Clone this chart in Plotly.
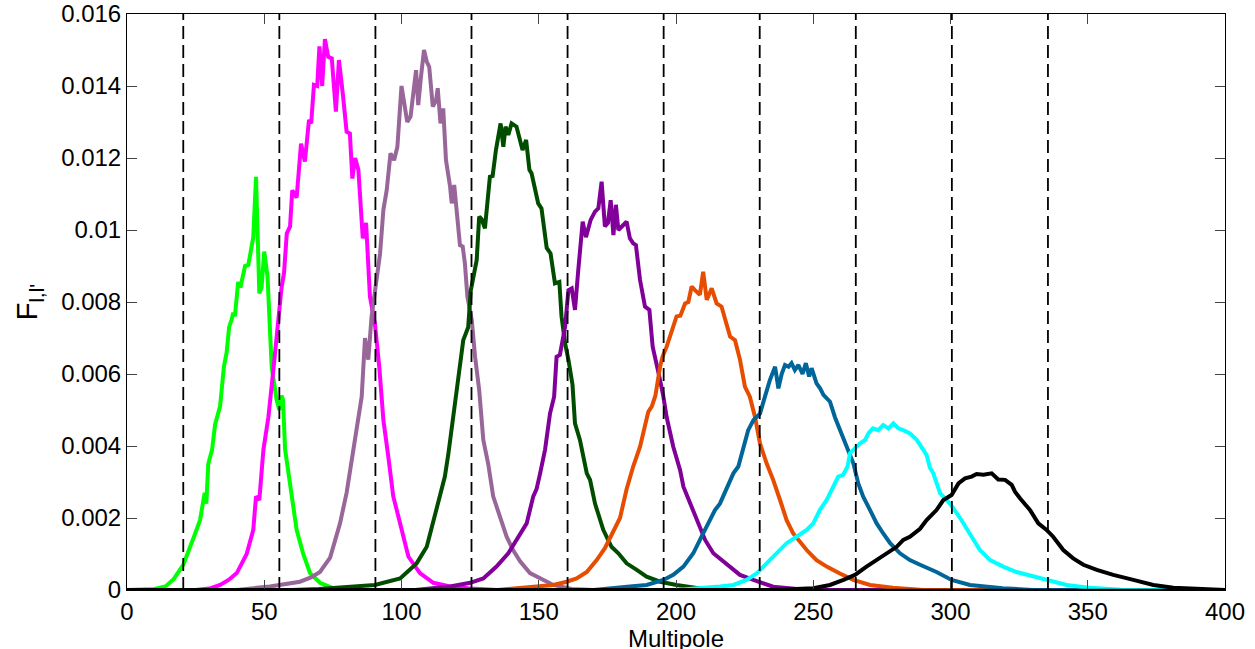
import plotly.graph_objects as go

# ---- data (multipole l, F_{l,l'}) ----
green_l = [0, 10, 14, 17, 20.5, 22.3, 24.5, 26.6, 28.3, 28.9, 29.6, 31, 32.1, 33.9, 35.3, 36.3, 37.2, 38.1, 38.7, 39.3,
           40.5, 41.3, 43, 44.2, 46, 47, 48.2, 49, 50, 51.2, 51.8, 52.7, 54.5, 55.5, 56.3, 56.8, 57.6, 60, 61.8, 64.2,
           66.7, 70.3, 75, 80, 400]
green_f = [0, 0.00003, 0.0001, 0.0003, 0.0007, 0.00103, 0.0015, 0.00194, 0.0027, 0.0024, 0.0035, 0.0039, 0.0046, 0.0051,
           0.0062, 0.0066, 0.0073, 0.0075, 0.0077, 0.0076,
           0.00856, 0.0084, 0.0090, 0.00903, 0.0098, 0.01148, 0.00824, 0.0084, 0.0094, 0.0087, 0.0075, 0.0062, 0.00528,
           0.0050, 0.0054, 0.0053, 0.0039, 0.0026, 0.00167, 0.001, 0.00047, 0.0002, 0.00005, 0, 0]

magenta_l = [0, 25, 30, 33.9, 37, 40, 43.6, 46, 47, 48.2, 49.7, 51.5, 53.3, 55.1, 56.3, 57.2, 58.2, 59.4, 60.2, 61.8,
             63.4, 64.8, 66.3, 67.1, 68.1, 69.3, 70.1, 71.1, 72.1, 73.3, 74.6, 76.1, 77.2, 78.6, 80, 81.2, 82.1, 83.1,
             84.3, 85.9, 87.1, 88.5, 90.3, 91.9, 93.4, 95.2, 97, 99.5, 102.5, 106.7, 111.6, 117.7, 125, 135, 400]
magenta_f = [0, 0, 0.00004, 0.00014, 0.00028, 0.00047, 0.001, 0.00167, 0.0026, 0.0025, 0.0039, 0.0048, 0.0061, 0.0076,
             0.0084, 0.0088, 0.0099, 0.0101, 0.0111, 0.0109, 0.0124, 0.0119, 0.01306, 0.01296, 0.01403, 0.0140, 0.0151,
             0.0140, 0.0153, 0.01481, 0.01477, 0.01329, 0.01472, 0.0138, 0.01273, 0.01268, 0.01143, 0.0120, 0.01167,
             0.00977, 0.0102, 0.00815, 0.0074, 0.0062, 0.00472, 0.0037, 0.0026, 0.00185, 0.00093, 0.00047, 0.0002,
             0.0001, 0.00004, 0, 0]

mauve_l = [0, 40, 52, 63, 67, 70.3, 74, 77.6, 80, 82.4, 84.3, 85.5, 86.7, 87.9, 89.1, 90.3, 92.2, 93.4, 94.6, 96, 97.3,
           98.5, 100, 102.1, 103.3, 105.3, 106.1, 107.1, 108.2, 109.2, 110.1, 111.4, 112.6, 113.2, 114.2, 115.2, 116.2,
           117.7, 118.3, 119.2, 120.3, 121.3, 122.3, 123.1, 124, 125.6, 126.8, 128.3, 129.8, 131.6, 133.4, 135.9, 138.3,
           140.7, 143.2, 146.8, 149.2, 155.3, 162, 170, 400]
mauve_f = [0, 0, 0.0001, 0.00023, 0.00035, 0.0005, 0.0009, 0.00185, 0.0027, 0.0039, 0.0049, 0.00537, 0.0070, 0.0064,
           0.0076, 0.0083, 0.00935, 0.01056, 0.0111, 0.01213, 0.01194, 0.01231, 0.0140, 0.0130, 0.01315, 0.01444,
           0.01347, 0.01426, 0.0150, 0.01468, 0.01453, 0.01343, 0.0136, 0.01394, 0.01296, 0.01338, 0.01194, 0.0112,
           0.01074, 0.01125, 0.0102, 0.00958, 0.00954, 0.00907, 0.00815, 0.0075, 0.00648, 0.00556, 0.00417, 0.0035,
           0.0026, 0.002, 0.00148, 0.0011, 0.0008, 0.00047, 0.00037, 0.00014, 0.00003, 0, 0]

dkgreen_l = [0, 60, 70, 82.4, 90.3, 99.5, 105.5, 109.2, 112.8, 115.8, 117.1, 118.9, 120.7, 122.5, 124.3, 125.2, 127.4,
             128.3, 129.2, 130.4, 132.2, 133.2, 134.4, 136.1, 137.1, 137.9, 138.9, 140.1, 141.9, 142.9, 144.1, 145.4,
             146.6, 147.4, 148.6, 149.8, 151, 152.9, 154.3, 155.9, 157.5, 158.3, 159.6, 160.8, 162.3, 163.2, 165, 167.5,
             168.7, 170.5, 173.5, 176.5, 179, 182, 185.7, 189.3, 194.2, 200.2, 210, 220, 400]
dkgreen_f = [0, 0, 0.00003, 0.00009, 0.00014, 0.00032, 0.00074, 0.0012, 0.0023, 0.00315, 0.0038, 0.0049, 0.0060,
             0.00694, 0.0073, 0.0083, 0.00917, 0.01037, 0.0103, 0.01005, 0.01148, 0.0115, 0.01222, 0.01296, 0.01231,
             0.01287, 0.01264, 0.01296, 0.01287, 0.01255, 0.01222, 0.0125, 0.01167, 0.01157, 0.0112, 0.01074, 0.0106,
             0.0095, 0.00935, 0.00852, 0.00856, 0.0076, 0.00685, 0.0064, 0.0057, 0.00463, 0.00417, 0.00324, 0.00306,
             0.0024, 0.00167, 0.0012, 0.00102, 0.00074, 0.00056, 0.00037, 0.00023, 0.00014, 0.00003, 0, 0]

purple_l = [0, 105, 117.7, 125, 129.8, 134.6, 138.9, 141.9, 143.5, 145.6, 148, 149.2, 150.5, 152.3, 154.1, 155.6,
            156.5, 157.7, 159.6, 160.8, 162, 163.2, 164.4, 166, 167.2, 168.9, 170.5, 171.7, 172.9, 174.1, 175.2, 176.2,
            177.2, 178.1, 179, 180.5, 182, 183.2, 184.4, 185.4, 186.9, 188.7, 190.3, 191.5, 193, 194.2, 195.4, 196.6,
            199, 201.5, 202.7, 205.1, 207.5, 210.6, 213.6, 216, 219.4, 223.3, 228.2, 235.4, 245, 255, 400]
purple_f = [0, 0, 0.0001, 0.0002, 0.00032, 0.00065, 0.00102, 0.0014, 0.0016, 0.00185, 0.0026, 0.0028, 0.00324, 0.0039,
            0.0049, 0.00537, 0.00648, 0.00653, 0.00731, 0.00833, 0.00838, 0.00778, 0.00889, 0.01023, 0.0098, 0.01028,
            0.01051, 0.0106, 0.01134, 0.0101, 0.0102, 0.01083, 0.00986, 0.0107, 0.01, 0.0101, 0.01023, 0.00977,
            0.00963, 0.00958, 0.00861, 0.00787, 0.00778, 0.00676, 0.0063, 0.00583, 0.00537, 0.0048, 0.00398, 0.00333,
            0.00287, 0.0024, 0.00194, 0.00139, 0.00102, 0.00088, 0.00067, 0.00042, 0.00028, 0.00009, 0.00002, 0, 0]

orange_l = [0, 135, 149.2, 155.3, 160.2, 163.8, 167.5, 171.1, 174.1, 177.2, 179.6, 182, 184.4, 186.9, 189.9, 191.2,
            192.5, 194.2, 195.1, 196.6, 198.4, 200.2, 201.6, 203.3, 204.5, 205.7, 206.9, 208.7, 209.9, 211.2, 213,
            214.8, 216.6, 219.7, 221.5, 223.3, 225.1, 226.9, 228.8, 230.6, 233, 235.4, 237.9, 240.3, 242.7, 245.2,
            247.6, 251.2, 254.9, 259.7, 264.6, 270.7, 279, 290, 400]
orange_f = [0, 0, 0.0001, 0.00014, 0.00023, 0.00032, 0.0005, 0.00083, 0.00116, 0.00167, 0.002, 0.0028, 0.00343,
            0.00398, 0.00495, 0.0051, 0.0054, 0.0062, 0.00648, 0.00676, 0.00722, 0.0076, 0.00762, 0.00796, 0.008,
            0.00843, 0.00833, 0.0082, 0.00884, 0.00806, 0.00838, 0.00796, 0.00787, 0.00704, 0.00694, 0.0064, 0.00565,
            0.00537, 0.0048, 0.00407, 0.00352, 0.00306, 0.0025, 0.00194, 0.00157, 0.00134, 0.00111, 0.00083, 0.00065,
            0.00046, 0.00028, 0.00014, 0.00006, 0, 0]

blue_l = [0, 170, 183.2, 189.3, 195.4, 199, 202.7, 206.3, 209.3, 211.8, 214.2, 216, 218.4, 220.9, 222.7, 224.5, 226.3,
          228.2, 230.6, 232.4, 234.2, 236.1, 237.3, 238.5, 239.7, 241, 242.1, 243.3, 244.6, 246.1, 247.3, 248.5, 249.4,
          251.2, 252.5, 253.7, 256.1, 257.9, 259.7, 261.6, 262.8, 264.6, 266.4, 268.2, 270.7, 273.1, 275.5, 278,
          281.6, 285.2, 288.9, 294.9, 300.4, 307.1, 319, 330, 400]
blue_f = [0, 0, 0.0001, 0.00014, 0.00028, 0.00042, 0.00065, 0.00102, 0.00148, 0.00185, 0.00222, 0.0024, 0.0028,
          0.00324, 0.00343, 0.00398, 0.00444, 0.00472, 0.0049, 0.00537, 0.00583, 0.0062, 0.0056, 0.006, 0.00625,
          0.0062, 0.0063, 0.00611, 0.00625, 0.006, 0.0063, 0.00593, 0.00616, 0.00574, 0.0056, 0.00542, 0.00523,
          0.0048, 0.00444, 0.00407, 0.00384, 0.00352, 0.00296, 0.00259, 0.00222, 0.00185, 0.00157, 0.0013, 0.00102,
          0.00083, 0.0007, 0.0005, 0.00028, 0.00014, 0.00005, 0, 0]

cyan_l = [0, 200, 216, 220.9, 225.7, 229.4, 233, 236.7, 240.3, 243.9, 247.6, 250, 252.4, 254.9, 257.3, 259.1, 260.9,
          262.5, 263.4, 264.6, 267, 268.9, 270.1, 271.7, 273.7, 275.5, 277.4, 279.2, 281, 282.8, 285.2, 287.7, 289.5,
          291.3, 292.5, 293.7, 296.2, 299.8, 303.5, 307.1, 310.7, 314.4, 319.2, 324.1, 330.2, 335, 342.3, 349.6, 362,
          375, 400]
cyan_f = [0, 0, 0.0001, 0.00014, 0.00028, 0.00046, 0.00074, 0.00102, 0.0013, 0.00148, 0.00167, 0.00185, 0.00222,
          0.0025, 0.00287, 0.00315, 0.0032, 0.00343, 0.0038, 0.0039, 0.00407, 0.00417, 0.00435, 0.00449, 0.00444,
          0.00458, 0.00449, 0.00463, 0.00449, 0.00444, 0.00435, 0.00417, 0.00394, 0.00375, 0.0034, 0.00325, 0.00269,
          0.0024, 0.002, 0.00157, 0.00111, 0.00083, 0.00065, 0.0005, 0.00037, 0.00028, 0.00014, 0.00007, 0.00001, 0, 0]

black_l = [0, 235, 250, 256.1, 261, 265.2, 269.4, 273.1, 276.7, 280.4, 282.8, 285.2, 288.9, 291.3, 293.7, 294.9, 297.4,
           300.4, 302.9, 305.3, 307.7, 309.5, 312, 315, 317.4, 319.9, 322.3, 323.5, 325.3, 329, 332, 335, 337.4, 341.1,
           344.7, 348.4, 353.3, 359.3, 366.6, 373.9, 381.2, 390, 400]
black_f = [0, 0, 0.00005, 0.00014, 0.00028, 0.00042, 0.00065, 0.00083, 0.00102, 0.0012, 0.00139, 0.00148, 0.0017,
           0.00194, 0.00213, 0.00222, 0.0025, 0.00264, 0.00296, 0.0031, 0.00315, 0.00322, 0.0032, 0.00324, 0.00307,
           0.00306, 0.00292, 0.00273, 0.00255, 0.00222, 0.00185, 0.00167, 0.00148, 0.00111, 0.00088, 0.0007, 0.00056,
           0.00042, 0.00028, 0.00014, 0.00006, 0.00002, 0]

bin_edges = [20.5, 55.5, 90.5, 125.5, 160.5, 195.5, 230.5, 265.5, 300.5, 335.5]

x_ticks = [0, 50, 100, 150, 200, 250, 300, 350, 400]
y_ticks = [0, 0.002, 0.004, 0.006, 0.008, 0.01, 0.012, 0.014, 0.016]
y_ticktext = ["0", "0.002", "0.004", "0.006", "0.008", "0.01", "0.012", "0.014", "0.016"]

series = [
    (green_l, green_f, "#00FF00"),
    (magenta_l, magenta_f, "#FF00FF"),
    (mauve_l, mauve_f, "#996699"),
    (dkgreen_l, dkgreen_f, "#004D00"),
    (purple_l, purple_f, "#800099"),
    (orange_l, orange_f, "#E64D00"),
    (blue_l, blue_f, "#006699"),
    (cyan_l, cyan_f, "#00FFFF"),
    (black_l, black_f, "#000000"),
]

fig = go.Figure()
for xs, ys, col in series:
    fig.add_trace(go.Scatter(x=xs, y=ys, mode="lines", line=dict(color=col, width=4), showlegend=False))

for e in bin_edges:
    fig.add_shape(type="line", x0=e, x1=e, y0=0, y1=0.016, xref="x", yref="y",
                  line=dict(color="black", width=1.8, dash="13px,6px"), layer="above")

fig.add_shape(type="line", x0=0, x1=400, y0=0, y1=0, xref="x", yref="y",
              line=dict(color="black", width=2.5), layer="above")

# x-axis title placed as an annotation so it sits where the reference has it
fig.add_annotation(text="Multipole", x=0.5, xref="paper", y=0, yref="paper",
                   xanchor="center", yanchor="top", yshift=-33, showarrow=False,
                   font=dict(size=24, color="black"))

font_family = "Liberation Sans, Arial, sans-serif"
fig.update_layout(
    width=1255, height=649,
    margin=dict(l=127, r=30, t=14, b=59),
    plot_bgcolor="white", paper_bgcolor="white",
    font=dict(family=font_family, size=24, color="black"),
    xaxis=dict(range=[0, 400], tickvals=x_ticks, ticks="inside", ticklen=10, tickcolor="#444",
               showline=True, linecolor="black", linewidth=1, mirror="ticks", showgrid=False, zeroline=False,
               ticklabeloverflow="allow", automargin=False),
    yaxis=dict(range=[0, 0.016], tickvals=y_ticks, ticktext=y_ticktext, ticks="inside", ticklen=10,
               tickcolor="#444", showline=True, linecolor="black", linewidth=1, mirror="ticks",
               showgrid=False, zeroline=False, ticklabeloverflow="allow",
               title=dict(text="F<sub>l,l'</sub>", standoff=14), automargin=False),
)

fig.write_html("out.html", config={"displayModeBar": False},
               post_script="document.body.style.margin='0px';")
